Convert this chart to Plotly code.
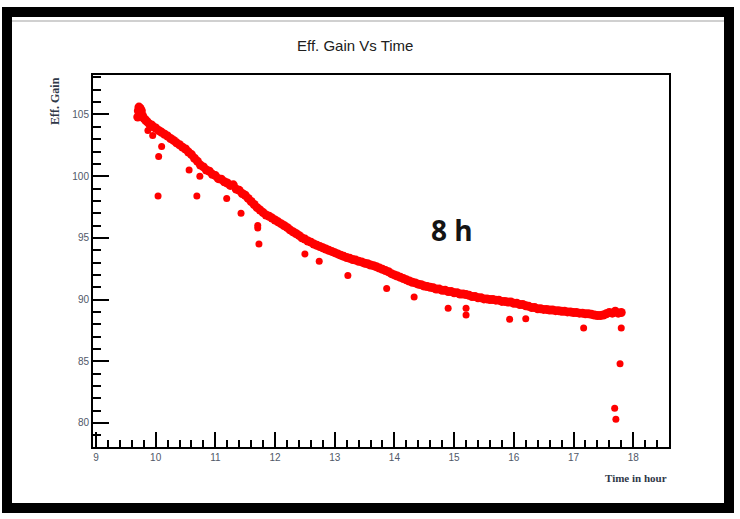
import plotly.graph_objects as go

# ---- data ----
time_main = [9.70, 9.71, 9.72, 9.73, 9.74, 9.75, 9.76, 9.78, 9.80, 9.83, 9.86, 9.90, 9.93, 9.96,
             10.00, 10.05, 10.10, 10.15, 10.20, 10.25, 10.30, 10.35, 10.40, 10.45, 10.50, 10.55,
             10.60, 10.65, 10.70, 10.75, 10.80, 10.85, 10.90, 10.95, 11.00, 11.05, 11.10, 11.15,
             11.20, 11.25, 11.30, 11.35, 11.40, 11.45, 11.50, 11.55, 11.60, 11.65, 11.70, 11.75,
             11.80, 11.85, 11.90, 11.95, 12.00, 12.05, 12.10, 12.15, 12.20, 12.25, 12.30, 12.35,
             12.40, 12.45, 12.50, 12.55, 12.60, 12.65, 12.70, 12.75, 12.80, 12.85, 12.90, 12.95,
             13.00, 13.05, 13.10, 13.15, 13.20, 13.25, 13.30, 13.35, 13.40, 13.45, 13.50, 13.55,
             13.60, 13.65, 13.70, 13.75, 13.80, 13.85, 13.90, 13.95, 14.00, 14.05, 14.10, 14.15,
             14.20, 14.25, 14.30, 14.35, 14.40, 14.45, 14.50, 14.55, 14.60, 14.65, 14.70, 14.75,
             14.80, 14.85, 14.90, 14.95, 15.00, 15.05, 15.10, 15.15, 15.20, 15.25, 15.30, 15.35,
             15.40, 15.45, 15.50, 15.55, 15.60, 15.65, 15.70, 15.75, 15.80, 15.85, 15.90, 15.95,
             16.00, 16.05, 16.10, 16.15, 16.20, 16.25, 16.30, 16.35, 16.40, 16.45, 16.50, 16.55,
             16.60, 16.65, 16.70, 16.75, 16.80, 16.85, 16.90, 16.95, 17.00, 17.05, 17.10, 17.15,
             17.20, 17.25, 17.30, 17.35, 17.40, 17.45, 17.50, 17.55, 17.60, 17.65, 17.70, 17.75,
             17.80]
gain_main = [104.8, 105.3, 105.6, 105.2, 105.5, 105.0, 105.3, 104.9, 104.7, 104.55, 104.4, 104.2, 104.15, 104.0,
             103.9, 103.7, 103.55, 103.4, 103.25, 103.05, 102.9, 102.7, 102.55, 102.35, 102.2, 101.95,
             101.75, 101.45, 101.2, 100.9, 100.75, 100.5, 100.4, 100.15, 100.05, 99.8, 99.75, 99.55,
             99.45, 99.25, 99.3, 98.95, 98.85, 98.6, 98.45, 98.2, 97.95, 97.7, 97.45, 97.25,
             97.05, 96.85, 96.75, 96.6, 96.45, 96.3, 96.15, 96.0, 95.85, 95.65, 95.5, 95.35,
             95.2, 95.0, 94.9, 94.75, 94.65, 94.5, 94.4, 94.3, 94.2, 94.1, 94.0, 93.9,
             93.8, 93.7, 93.6, 93.5, 93.4, 93.35, 93.25, 93.2, 93.1, 93.05, 92.95, 92.9,
             92.8, 92.75, 92.65, 92.55, 92.45, 92.35, 92.25, 92.1, 92.0, 91.9, 91.8, 91.7,
             91.6, 91.5, 91.4, 91.35, 91.25, 91.2, 91.1, 91.05, 91.0, 90.95, 90.85, 90.85,
             90.75, 90.75, 90.65, 90.65, 90.55, 90.55, 90.45, 90.45, 90.4, 90.35, 90.25, 90.25,
             90.15, 90.15, 90.05, 90.05, 90.0, 90.0, 89.95, 89.95, 89.85, 89.85, 89.8, 89.8,
             89.7, 89.7, 89.6, 89.6, 89.5, 89.45, 89.35, 89.35, 89.25, 89.25, 89.2, 89.2,
             89.15, 89.15, 89.1, 89.1, 89.05, 89.05, 89.0, 89.0, 88.95, 88.95, 88.9, 88.9,
             88.85, 88.85, 88.8, 88.75, 88.7, 88.7, 88.75, 88.85, 88.95, 88.9, 89.05, 88.9,
             88.95]

time_outlier = [9.87, 9.95, 10.10, 10.05, 10.04, 10.56, 10.74, 10.69, 11.19, 11.43, 11.71, 11.71,
                11.73, 12.50, 12.74, 13.22, 13.87, 14.33, 14.90, 15.20, 15.20, 15.93, 16.20,
                17.17, 17.80, 17.78, 17.69, 17.71]
gain_outlier = [103.7, 103.3, 102.4, 101.6, 98.4, 100.5, 100.0, 98.4, 98.2, 97.0, 96.0, 95.8,
                94.5, 93.7, 93.1, 91.95, 90.9, 90.2, 89.3, 89.3, 88.75, 88.4, 88.45,
                87.7, 87.7, 84.8, 81.2, 80.3]

x_range = [8.95, 18.6]
y_range = [78.05, 108.2]

W, H = 740, 519
L, R, T, B = 93, 669, 75, 447


def px(x):
    return (x - L) / (R - L)


def py(y):
    return (B - y) / (B - T)


fig = go.Figure()
fig.add_trace(go.Scatter(x=time_main, y=gain_main, mode="markers",
                         marker=dict(color="#ff0000", size=9, line=dict(width=0)),
                         showlegend=False, hoverinfo="x+y"))
fig.add_trace(go.Scatter(x=time_outlier, y=gain_outlier, mode="markers",
                         marker=dict(color="#ff0000", size=7, line=dict(width=0)),
                         showlegend=False, hoverinfo="x+y"))

tickfont = dict(family="Liberation Sans Narrow, Liberation Sans, Arial", size=10, color="#505868")

fig.update_layout(
    width=W, height=H,
    margin=dict(l=L, r=W - R, t=T, b=H - B),
    paper_bgcolor="white", plot_bgcolor="white",
    xaxis=dict(range=x_range, showgrid=False, zeroline=False,
               showline=True, linecolor="black", linewidth=2, mirror=True,
               ticks="inside", ticklen=15, tickwidth=2, tickcolor="black",
               tick0=9, dtick=1, tickfont=tickfont,
               minor=dict(dtick=0.2, ticks="inside", ticklen=7, tickwidth=2, tickcolor="black")),
    yaxis=dict(range=y_range, showgrid=False, zeroline=False,
               showline=True, linecolor="black", linewidth=2, mirror=True,
               ticks="inside", ticklen=16, tickwidth=2, tickcolor="black",
               tick0=80, dtick=5, tickfont=tickfont,
               minor=dict(dtick=1, ticks="inside", ticklen=8, tickwidth=2, tickcolor="black")),
    shapes=[
        dict(type="rect", xref="paper", yref="paper",
             x0=px(7), x1=px(729), y0=py(12), y1=py(508),
             line=dict(color="black", width=10), fillcolor="rgba(0,0,0,0)", layer="above"),
        dict(type="line", xref="paper", yref="paper",
             x0=px(12), x1=px(724), y0=py(21), y1=py(21),
             line=dict(color="#d0d0d0", width=2)),
    ],
    annotations=[
        dict(text="Eff. Gain Vs Time", xref="paper", yref="paper", x=px(355), y=py(45),
             xanchor="center", yanchor="middle", showarrow=False,
             font=dict(family="Liberation Sans Narrow, Liberation Sans, Arial", size=15, color="#202020")),
        dict(text="<b>Eff. Gain</b>", xref="paper", yref="paper", x=px(55), y=1.0,
             xanchor="center", yanchor="top", textangle=-90, showarrow=False,
             font=dict(family="Liberation Serif, Times New Roman", size=12, color="#303848")),
        dict(text="<b>Time in hour</b>", xref="paper", yref="paper", x=1.0, y=py(478),
             xanchor="right", yanchor="middle", showarrow=False,
             font=dict(family="Liberation Serif, Times New Roman", size=11, color="#303848")),
        dict(text="8 h", xref="paper", yref="paper", x=px(452), y=py(230),
             xanchor="center", yanchor="middle", showarrow=False,
             font=dict(family="Open Sans", size=28, color="#141414", weight=700)),
    ],
)

fig.write_html("out.html")
